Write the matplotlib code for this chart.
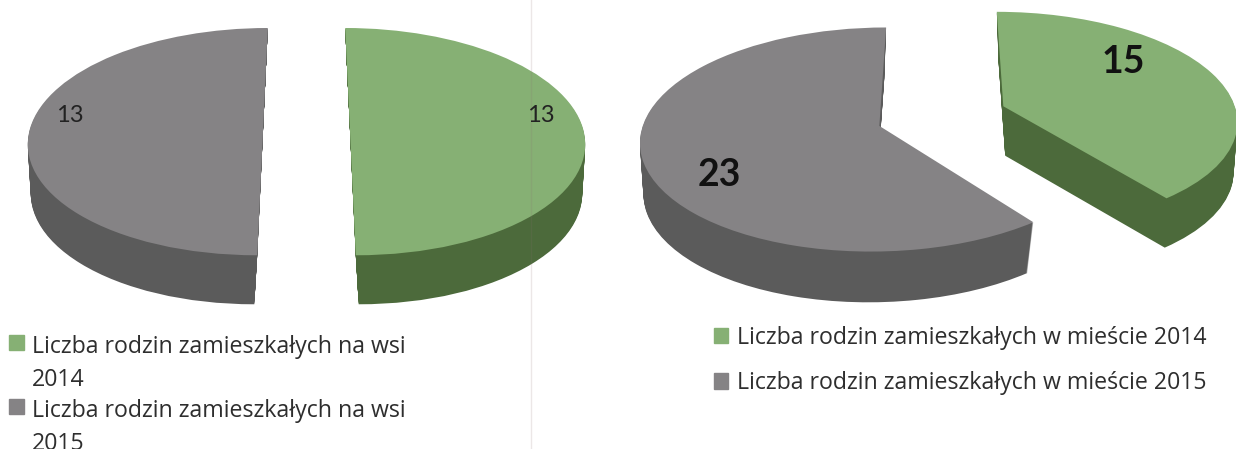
"""Two exploded 3D-look pies: families in village vs town, 2014/2015."""
import matplotlib
matplotlib.use("Agg")
import matplotlib.pyplot as plt
import numpy as np
from matplotlib.legend_handler import HandlerPatch
from matplotlib.patches import Patch, Rectangle
from matplotlib.transforms import Transform

plt.rcParams["font.family"] = ["Lato", "DejaVu Sans"]

wies_values = [13, 13]
miasto_values = [15, 23]
wies_labels = ["Liczba rodzin zamieszkałych na wsi\n2014",
               "Liczba rodzin zamieszkałych na wsi\n2015"]
miasto_labels = ["Liczba rodzin zamieszkałych w mieście 2014",
                 "Liczba rodzin zamieszkałych w mieście 2015"]

GREEN, GREEN_DARK = "#86b074", "#4c6a3b"
GREY, GREY_DARK = "#858385", "#5b5b5b"
TEXT = "#2e2e2e"


class PieView(Transform):
    """Perspective view of the pie plane, output in image pixels."""
    input_dims = output_dims = 2

    def __init__(self, x0, y0, rx, q, p, shrink=1.0):
        super().__init__()
        self.x0, self.y0, self.rx, self.q, self.p = x0, y0, rx, q, p
        self.shrink = shrink

    def transform_non_affine(self, values):
        u, v = np.asarray(values).T
        w = 1 + self.p * v
        x = self.x0 + self.shrink * self.rx * u / w
        y = self.y0 - self.q * v / w
        return np.column_stack([x, y])


def draw_pie(ax, values, explode, x0, y0, rx, q, depth):
    # side wall is a stack of the same pie shifted down, top face goes last
    for d in range(depth, 0, -1):
        t = d / depth
        view = PieView(x0, y0 + d, rx, q, 0.12, 1 - 0.024 * t)
        ax.pie(values, explode=[explode + 0.016 * t] * 2, startangle=90, counterclock=False,
               colors=[GREEN_DARK, GREY_DARK],
               wedgeprops={"transform": view + ax.transData, "lw": 0})
    view = PieView(x0, y0, rx, q, 0.12)
    ax.pie(values, explode=[explode] * 2, startangle=90, counterclock=False,
           colors=[GREEN, GREY],
           wedgeprops={"transform": view + ax.transData, "lw": 0})


def swatch_on_first_line(legend, orig_handle, xdescent, ydescent, width, height, fontsize):
    # square sits beside the first text line, not the middle of the block
    return Rectangle((-xdescent, -ydescent + 0.95 * fontsize), width, height)


fig = plt.figure(figsize=(12.36, 4.49), dpi=100)
ax = fig.add_axes([0, 0, 1, 1])

draw_pie(ax, wies_values, 0.186, 306.5, 128, 233, 112, 49)
draw_pie(ax, miasto_values, 0.28, 942, 116, 234, 108, 50)

ax.set_aspect("auto")
ax.set_xlim(0, 1236)
ax.set_ylim(449, 0)
ax.axis("off")

# fold of the scanned page
ax.axvline(531, color="#8a6f6f", alpha=0.16, lw=1)

ax.text(70, 115, str(wies_values[1]), fontsize=17, color="#222222", ha="center", va="center")
ax.text(541, 115, str(wies_values[0]), fontsize=17, color="#222222", ha="center", va="center")
ax.text(1123, 62, str(miasto_values[0]), fontsize=27, fontweight="bold", color="#111111",
        ha="center", va="center")
ax.text(719, 175, str(miasto_values[1]), fontsize=27, fontweight="bold", color="#111111",
        ha="center", va="center")

green_h, grey_h = Patch(color=GREEN), Patch(color=GREY)
left = ax.legend(handles=[green_h, grey_h], labels=wies_labels,
                 handler_map={Patch: HandlerPatch(patch_func=swatch_on_first_line)},
                 loc="upper left", bbox_to_anchor=(0, 0.275), bbox_transform=ax.transAxes,
                 frameon=False, labelcolor=TEXT, handlelength=0.62,
                 prop={"family": "Open Sans", "size": 16.7},
                 handleheight=0.62, handletextpad=0.36, labelspacing=0.3,
                 borderpad=0.2, borderaxespad=0.2)
for t in left.get_texts():
    t.set_linespacing(1.5)
ax.add_artist(left)
ax.legend(handles=[green_h, grey_h], labels=miasto_labels,
          loc="upper left", bbox_to_anchor=(0.57, 0.295), bbox_transform=ax.transAxes,
          frameon=False, labelcolor=TEXT, handlelength=0.62,
          prop={"family": "Open Sans", "size": 16.7},
          handleheight=0.62, handletextpad=0.36, labelspacing=0.92,
          borderpad=0.2, borderaxespad=0.2)

fig.savefig("out.png", dpi=100)
print("wrote out.png")
